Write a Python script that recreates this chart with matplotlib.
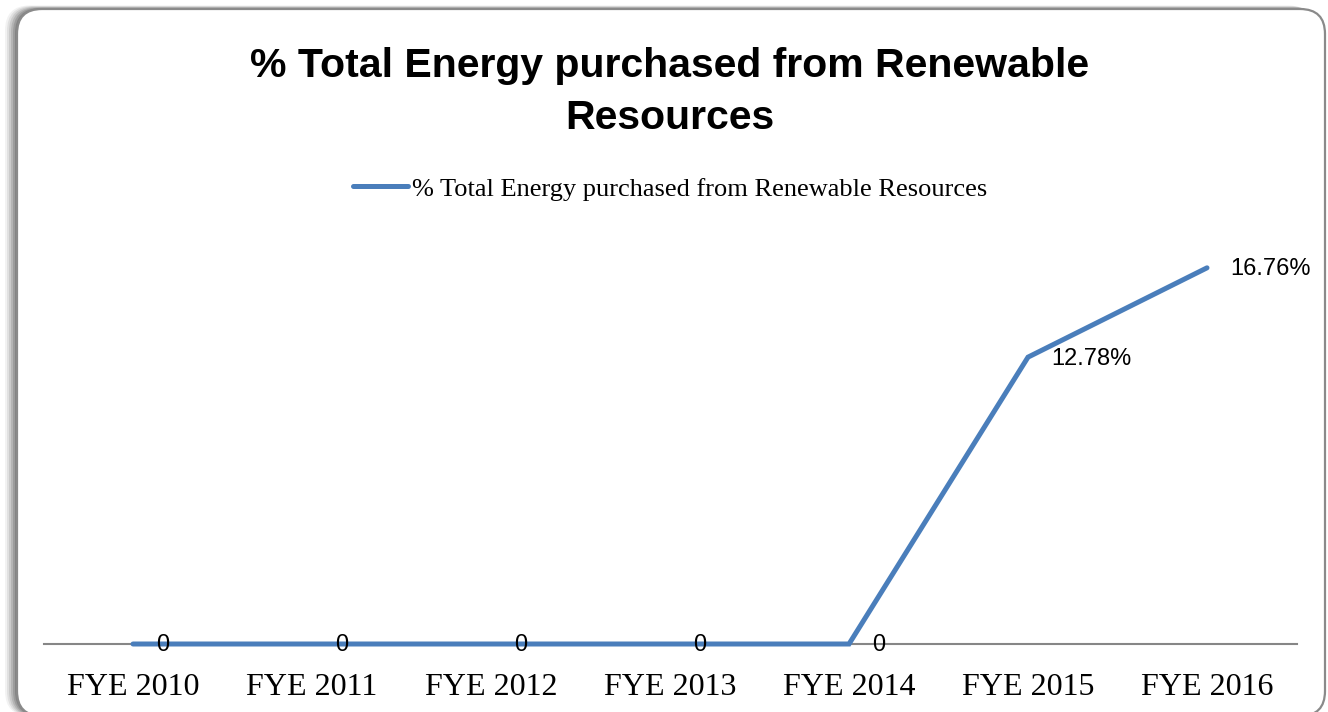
import matplotlib.pyplot as plt
from matplotlib.patches import FancyBboxPatch

years = ["FYE 2010", "FYE 2011", "FYE 2012", "FYE 2013", "FYE 2014", "FYE 2015", "FYE 2016"]
pct_renewable = [0, 0, 0, 0, 0, 12.78, 16.76]
point_labels = ["0", "0", "0", "0", "0", "12.78%", "16.76%"]
series_name = "% Total Energy purchased from Renewable Resources"

W, H = 1328, 712
fig = plt.figure(figsize=(W / 100, H / 100), dpi=100)

# background frame with rounded corners and a soft shadow on the left
bg = fig.add_axes([0, 0, 1, 1], zorder=0)
bg.set_xlim(0, W)
bg.set_ylim(0, H)
bg.axis("off")
for i, a in enumerate([0.05, 0.07, 0.09, 0.11, 0.13, 0.15]):
    off = 12 - i * 2
    bg.add_patch(FancyBboxPatch((17 - off, -4), 1308, 707 + off * 0.3,
                                boxstyle="round,pad=0,rounding_size=25",
                                fc="black", ec="none", alpha=a))
bg.add_patch(FancyBboxPatch((17, -4), 1308, 707,
                            boxstyle="round,pad=0,rounding_size=25",
                            fc="white", ec="#8a8a8a", lw=1.6))

ax = fig.add_axes([43.5 / W, 1 - 644 / H, 1253 / W, 404 / H], zorder=1)
ax.patch.set_alpha(0)
x = list(range(len(years)))
ax.plot(x, pct_renewable, color="#4a7ebb", lw=3.6, solid_capstyle="round",
        solid_joinstyle="miter", clip_on=False, zorder=3, label=series_name)

for xi, v, lab in zip(x, pct_renewable, point_labels):
    ax.annotate(lab, (xi, v), xytext=(17, -1), textcoords="offset points",
                ha="left", va="center", fontsize=17, family="Liberation Sans",
                zorder=4)

ax.set_xlim(-0.5, 6.5)
ax.set_ylim(0, 18)
ax.set_xticks(x)
ax.set_xticklabels(years, family="Liberation Serif", fontsize=23)
ax.tick_params(axis="x", length=0, pad=21)
ax.set_yticks([])
for s in ["top", "right", "left"]:
    ax.spines[s].set_visible(False)
ax.spines["bottom"].set_color("#868686")
ax.spines["bottom"].set_linewidth(1.5)
ax.spines["bottom"].set_zorder(2)

fig.text(0.5045, 1 - 92 / H, "% Total Energy purchased from Renewable\nResources",
         ha="center", va="center", fontsize=29.5, fontweight="bold",
         family="Liberation Sans", linespacing=1.45)

ax.legend(loc="center", bbox_to_anchor=(670 / W, 1 - 189 / H),
          bbox_transform=fig.transFigure, frameon=False,
          prop={"family": "Liberation Serif", "size": 19},
          handlelength=2.1, handletextpad=0.15)

fig.savefig("out.png", dpi=100)
